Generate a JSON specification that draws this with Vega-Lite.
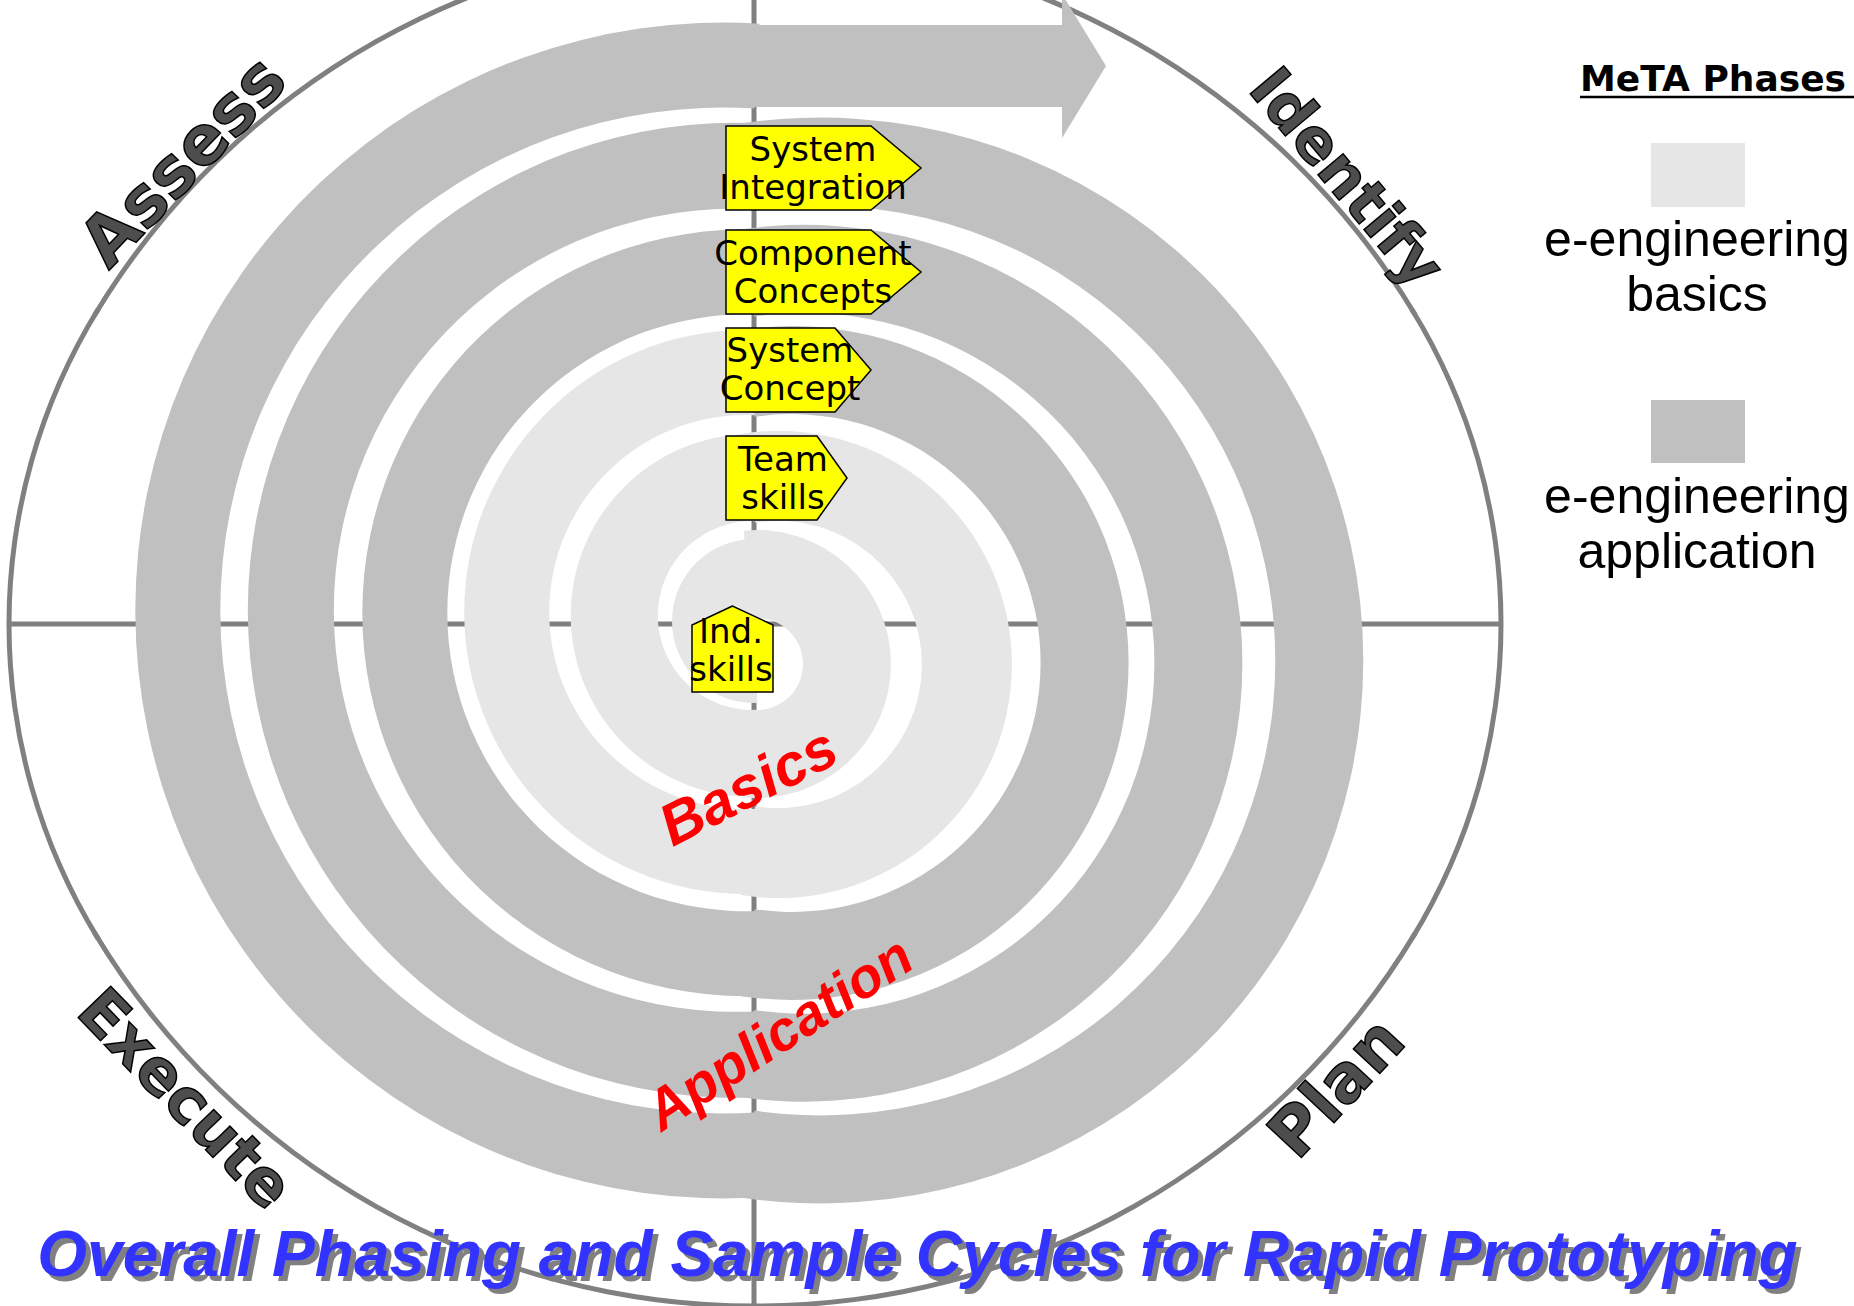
{
  "$schema": "https://vega.github.io/schema/vega-lite/v6.json",
  "width": 1854,
  "height": 1306,
  "padding": 0,
  "autosize": {"type": "none"},
  "background": "white",
  "config": {"view": {"stroke": null}},
  "datasets": {
    "axes": [
      {"x1": 754, "x2": 754, "y1": 0, "y2": 1306},
      {"x1": 9, "x2": 1501, "y1": 624, "y2": 624}
    ],
    "oval": [
      {"part": "top", "cx": 755, "cy": 713, "r_in": 768.5, "r_out": 773.5, "t1": -1.028, "t2": 1.028},
      {"part": "right", "cx": 901, "cy": 624, "r_in": 597.5, "r_out": 602.5, "t1": 1.018, "t2": 2.123},
      {"part": "bottom", "cx": 755, "cy": 535, "r_in": 768.5, "r_out": 773.5, "t1": 2.113, "t2": 4.170},
      {"part": "left", "cx": 609, "cy": 624, "r_in": 597.5, "r_out": 602.5, "t1": 4.160, "t2": 5.265}
    ],
    "spiral": [
      {"turn": "L0", "phase": "e-engineering basics", "cx": 754, "cy": 621, "r_in": 0, "r_out": 82, "t1": 3.10, "t2": 6.33},
      {"turn": "R1", "phase": "e-engineering basics", "cx": 757, "cy": 664, "r_in": 46, "r_out": 134, "t1": -0.10, "t2": 3.242},
      {"turn": "L1", "phase": "e-engineering basics", "cx": 752.25, "cy": 615.5, "r_in": 94.5, "r_out": 181.5, "t1": 3.0856, "t2": 6.339},
      {"turn": "R2", "phase": "e-engineering basics", "cx": 778.3, "cy": 664.5, "r_in": 143.6, "r_out": 233.6, "t1": -0.161, "t2": 3.303},
      {"turn": "L2", "phase": "e-engineering basics", "cx": 746.3, "cy": 612, "r_in": 197.1, "r_out": 282.1, "t1": 3.0846, "t2": 6.340},
      {"turn": "R3", "phase": "e-engineering application", "cx": 791.7, "cy": 663, "r_in": 248.9, "r_out": 336.9, "t1": -0.149, "t2": 3.291},
      {"turn": "L3", "phase": "e-engineering application", "cx": 745.7, "cy": 612.75, "r_in": 298.4, "r_out": 383.4, "t1": 3.0996, "t2": 6.325},
      {"turn": "R4", "phase": "e-engineering application", "cx": 804, "cy": 663.25, "r_in": 350.4, "r_out": 438.4, "t1": -0.142, "t2": 3.284},
      {"turn": "L4", "phase": "e-engineering application", "cx": 735.4, "cy": 610.25, "r_in": 401.6, "r_out": 487.6, "t1": 3.0856, "t2": 6.339},
      {"turn": "R5", "phase": "e-engineering application", "cx": 820.4, "cy": 660.5, "r_in": 454.9, "r_out": 542.9, "t1": -0.1455, "t2": 3.287},
      {"turn": "L5", "phase": "e-engineering application", "cx": 723.2, "cy": 610.5, "r_in": 502.9, "r_out": 587.9, "t1": 3.073, "t2": 6.345}
    ],
    "arrowBody": [
      {"phase": "e-engineering application", "x1": 752, "x2": 1063, "y1": 25, "y2": 107}
    ],
    "arrowHead": [
      {"phase": "e-engineering application", "x": 1062, "y1": -6, "y2": 138},
      {"phase": "e-engineering application", "x": 1106, "y1": 66, "y2": 66}
    ],
    "signs": [
      {"sign": "System Integration", "x": 726, "top": 126, "bottom": 210},
      {"sign": "System Integration", "x": 871, "top": 126, "bottom": 210},
      {"sign": "System Integration", "x": 921, "top": 168, "bottom": 168},
      {"sign": "Component Concepts", "x": 726, "top": 230, "bottom": 314},
      {"sign": "Component Concepts", "x": 871, "top": 230, "bottom": 314},
      {"sign": "Component Concepts", "x": 921, "top": 272, "bottom": 272},
      {"sign": "System Concept", "x": 726, "top": 328, "bottom": 412},
      {"sign": "System Concept", "x": 835, "top": 328, "bottom": 412},
      {"sign": "System Concept", "x": 871, "top": 370, "bottom": 370},
      {"sign": "Team skills", "x": 726, "top": 436, "bottom": 520},
      {"sign": "Team skills", "x": 817, "top": 436, "bottom": 520},
      {"sign": "Team skills", "x": 847, "top": 478, "bottom": 478}
    ],
    "indSign": [
      {"y": 606, "left": 732.5, "right": 732.5},
      {"y": 625, "left": 692, "right": 773},
      {"y": 692, "left": 692, "right": 773}
    ],
    "signLabels": [
      {"label": "System\nIntegration", "x": 813, "y": 161},
      {"label": "Component\nConcepts", "x": 813, "y": 265},
      {"label": "System\nConcept", "x": 790, "y": 362},
      {"label": "Team\nskills", "x": 783, "y": 471},
      {"label": "Ind.\nskills", "x": 731, "y": 643}
    ],
    "phases": [
      {"label": "Assess", "x": 185, "y": 163},
      {"label": "Identify", "x": 1345, "y": 179},
      {"label": "Execute", "x": 184, "y": 1100},
      {"label": "Plan", "x": 1338, "y": 1089}
    ],
    "stages": [
      {"label": "Basics", "x": 749, "y": 788},
      {"label": "Application", "x": 780, "y": 1035}
    ],
    "title": [
      {"label": "Overall Phasing and Sample Cycles for Rapid Prototyping", "x": 917.5, "y": 1276}
    ],
    "legendTitle": [
      {"label": "MeTA Phases", "x": 1580, "y": 91, "x2": 1854, "yu": 97}
    ],
    "legendSwatches": [
      {"phase": "e-engineering basics", "x1": 1651, "x2": 1745, "y1": 143, "y2": 207},
      {"phase": "e-engineering application", "x1": 1651, "x2": 1745, "y1": 400, "y2": 463}
    ],
    "legendLabels": [
      {"label": "e-engineering\nbasics", "x": 1697, "y": 256},
      {"label": "e-engineering\napplication", "x": 1697, "y": 513}
    ]
  },
  "layer": [
    {
      "data": {"name": "axes"},
      "mark": {"type": "rule", "color": "#808080", "strokeWidth": 5},
      "encoding": {
        "x": {"field": "x1", "type": "quantitative", "scale": {"domain": [0, 1854], "nice": false, "zero": false}, "axis": null},
        "x2": {"field": "x2"},
        "y": {"field": "y1", "type": "quantitative", "scale": {"domain": [0, 1306], "nice": false, "zero": false, "reverse": true}, "axis": null},
        "y2": {"field": "y2"}
      }
    },
    {
      "data": {"name": "oval"},
      "mark": {"type": "arc", "color": "#808080"},
      "encoding": {
        "x": {"field": "cx", "type": "quantitative", "axis": null},
        "y": {"field": "cy", "type": "quantitative", "axis": null},
        "theta": {"field": "t1", "type": "quantitative", "scale": null, "stack": null},
        "theta2": {"field": "t2"},
        "radius": {"field": "r_out", "type": "quantitative", "scale": null},
        "radius2": {"field": "r_in"}
      }
    },
    {
      "data": {"name": "spiral"},
      "mark": {"type": "arc"},
      "encoding": {
        "x": {"field": "cx", "type": "quantitative", "axis": null},
        "y": {"field": "cy", "type": "quantitative", "axis": null},
        "theta": {"field": "t1", "type": "quantitative", "scale": null, "stack": null},
        "theta2": {"field": "t2"},
        "radius": {"field": "r_out", "type": "quantitative", "scale": null},
        "radius2": {"field": "r_in"},
        "color": {"field": "phase", "type": "nominal", "scale": {"domain": ["e-engineering basics", "e-engineering application"], "range": ["#E6E6E6", "#C0C0C0"]}, "legend": null}
      }
    },
    {
      "data": {"name": "arrowBody"},
      "mark": {"type": "rect"},
      "encoding": {
        "x": {"field": "x1", "type": "quantitative", "axis": null},
        "x2": {"field": "x2"},
        "y": {"field": "y1", "type": "quantitative", "axis": null},
        "y2": {"field": "y2"},
        "color": {"field": "phase", "type": "nominal", "legend": null}
      }
    },
    {
      "data": {"name": "arrowHead"},
      "mark": {"type": "area", "orient": "vertical"},
      "encoding": {
        "x": {"field": "x", "type": "quantitative", "axis": null},
        "y": {"field": "y1", "type": "quantitative", "axis": null},
        "y2": {"field": "y2"},
        "color": {"field": "phase", "type": "nominal", "legend": null}
      }
    },
    {
      "data": {"name": "signs"},
      "mark": {"type": "area", "orient": "vertical", "fill": "#FFFF00", "stroke": "#000000", "strokeWidth": 1.5, "strokeJoin": "miter"},
      "encoding": {
        "x": {"field": "x", "type": "quantitative", "axis": null},
        "y": {"field": "top", "type": "quantitative", "axis": null},
        "y2": {"field": "bottom"},
        "detail": {"field": "sign", "type": "nominal"}
      }
    },
    {
      "data": {"name": "indSign"},
      "mark": {"type": "area", "orient": "horizontal", "fill": "#FFFF00", "stroke": "#000000", "strokeWidth": 1.5, "strokeJoin": "miter"},
      "encoding": {
        "y": {"field": "y", "type": "quantitative", "axis": null},
        "x": {"field": "left", "type": "quantitative", "axis": null},
        "x2": {"field": "right"}
      }
    },
    {
      "data": {"name": "signLabels"},
      "mark": {"type": "text", "font": "DejaVu Sans", "fontSize": 34, "lineHeight": 38, "lineBreak": "\n", "align": "center", "baseline": "alphabetic", "color": "#000000"},
      "encoding": {
        "x": {"field": "x", "type": "quantitative", "axis": null},
        "y": {"field": "y", "type": "quantitative", "axis": null},
        "text": {"field": "label", "type": "nominal"}
      }
    },
    {
      "data": {"name": "phases"},
      "transform": [{"filter": "datum.label === 'Assess'"}],
      "mark": {"type": "text", "font": "DejaVu Sans", "fontWeight": "bold", "fontSize": 68, "angle": 314, "align": "center", "baseline": "middle", "fill": "#4D4D4D", "stroke": "#000000", "strokeWidth": 1.5},
      "encoding": {
        "x": {"field": "x", "type": "quantitative", "axis": null},
        "y": {"field": "y", "type": "quantitative", "axis": null},
        "text": {"field": "label", "type": "nominal"}
      }
    },
    {
      "data": {"name": "phases"},
      "transform": [{"filter": "datum.label === 'Identify'"}],
      "mark": {"type": "text", "font": "DejaVu Sans", "fontWeight": "bold", "fontSize": 60, "angle": 50, "align": "center", "baseline": "middle", "fill": "#4D4D4D", "stroke": "#000000", "strokeWidth": 1.5},
      "encoding": {
        "x": {"field": "x", "type": "quantitative", "axis": null},
        "y": {"field": "y", "type": "quantitative", "axis": null},
        "text": {"field": "label", "type": "nominal"}
      }
    },
    {
      "data": {"name": "phases"},
      "transform": [{"filter": "datum.label === 'Execute'"}],
      "mark": {"type": "text", "font": "DejaVu Sans", "fontWeight": "bold", "fontSize": 62, "angle": 46, "align": "center", "baseline": "middle", "fill": "#4D4D4D", "stroke": "#000000", "strokeWidth": 1.5},
      "encoding": {
        "x": {"field": "x", "type": "quantitative", "axis": null},
        "y": {"field": "y", "type": "quantitative", "axis": null},
        "text": {"field": "label", "type": "nominal"}
      }
    },
    {
      "data": {"name": "phases"},
      "transform": [{"filter": "datum.label === 'Plan'"}],
      "mark": {"type": "text", "font": "DejaVu Sans", "fontWeight": "bold", "fontSize": 66, "angle": 313, "align": "center", "baseline": "middle", "fill": "#4D4D4D", "stroke": "#000000", "strokeWidth": 1.5},
      "encoding": {
        "x": {"field": "x", "type": "quantitative", "axis": null},
        "y": {"field": "y", "type": "quantitative", "axis": null},
        "text": {"field": "label", "type": "nominal"}
      }
    },
    {
      "data": {"name": "stages"},
      "transform": [{"filter": "datum.label === 'Basics'"}],
      "mark": {"type": "text", "font": "Liberation Sans", "fontWeight": "bold", "fontStyle": "italic", "fontSize": 59, "angle": 333, "align": "center", "baseline": "middle", "color": "#FF0000"},
      "encoding": {
        "x": {"field": "x", "type": "quantitative", "axis": null},
        "y": {"field": "y", "type": "quantitative", "axis": null},
        "text": {"field": "label", "type": "nominal"}
      }
    },
    {
      "data": {"name": "stages"},
      "transform": [{"filter": "datum.label === 'Application'"}],
      "mark": {"type": "text", "font": "Liberation Sans", "fontWeight": "bold", "fontStyle": "italic", "fontSize": 56, "angle": 327, "align": "center", "baseline": "middle", "color": "#FF0000"},
      "encoding": {
        "x": {"field": "x", "type": "quantitative", "axis": null},
        "y": {"field": "y", "type": "quantitative", "axis": null},
        "text": {"field": "label", "type": "nominal"}
      }
    },
    {
      "data": {"name": "title"},
      "mark": {"type": "text", "font": "Liberation Sans", "fontWeight": "bold", "fontStyle": "italic", "fontSize": 64, "align": "center", "baseline": "alphabetic", "color": "#808080", "dx": 5, "dy": 5},
      "encoding": {
        "x": {"field": "x", "type": "quantitative", "axis": null},
        "y": {"field": "y", "type": "quantitative", "axis": null},
        "text": {"field": "label", "type": "nominal"}
      }
    },
    {
      "data": {"name": "title"},
      "mark": {"type": "text", "font": "Liberation Sans", "fontWeight": "bold", "fontStyle": "italic", "fontSize": 64, "align": "center", "baseline": "alphabetic", "color": "#3333FF"},
      "encoding": {
        "x": {"field": "x", "type": "quantitative", "axis": null},
        "y": {"field": "y", "type": "quantitative", "axis": null},
        "text": {"field": "label", "type": "nominal"}
      }
    },
    {
      "data": {"name": "legendTitle"},
      "mark": {"type": "text", "font": "DejaVu Sans", "fontWeight": "bold", "fontSize": 36, "align": "left", "baseline": "alphabetic", "color": "#000000"},
      "encoding": {
        "x": {"field": "x", "type": "quantitative", "axis": null},
        "y": {"field": "y", "type": "quantitative", "axis": null},
        "text": {"field": "label", "type": "nominal"}
      }
    },
    {
      "data": {"name": "legendTitle"},
      "mark": {"type": "rule", "color": "#000000", "strokeWidth": 2.5},
      "encoding": {
        "x": {"field": "x", "type": "quantitative", "axis": null},
        "x2": {"field": "x2"},
        "y": {"field": "yu", "type": "quantitative", "axis": null}
      }
    },
    {
      "data": {"name": "legendSwatches"},
      "mark": {"type": "rect"},
      "encoding": {
        "x": {"field": "x1", "type": "quantitative", "axis": null},
        "x2": {"field": "x2"},
        "y": {"field": "y1", "type": "quantitative", "axis": null},
        "y2": {"field": "y2"},
        "color": {"field": "phase", "type": "nominal", "legend": null}
      }
    },
    {
      "data": {"name": "legendLabels"},
      "mark": {"type": "text", "font": "Liberation Sans", "fontSize": 50, "lineHeight": 55, "lineBreak": "\n", "align": "center", "baseline": "alphabetic", "color": "#000000"},
      "encoding": {
        "x": {"field": "x", "type": "quantitative", "axis": null},
        "y": {"field": "y", "type": "quantitative", "axis": null},
        "text": {"field": "label", "type": "nominal"}
      }
    }
  ]
}
